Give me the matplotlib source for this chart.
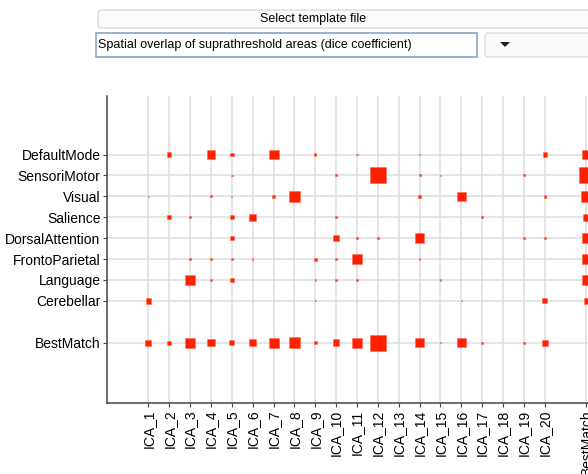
import numpy as np
import matplotlib.pyplot as plt
from matplotlib.patches import FancyBboxPatch, Rectangle, Polygon

plt.rcParams['font.family'] = ['Liberation Sans', 'DejaVu Sans']

# networks (rows) and ICA components (columns)
networks = ['DefaultMode', 'SensoriMotor', 'Visual', 'Salience',
            'DorsalAttention', 'FrontoParietal', 'Language', 'Cerebellar']
components = ['ICA_%d' % i for i in range(1, 21)]

# dice coefficient, one list per network (0 = no overlap)
dice_defaultmode = [0, .14, 0, .27, .13, 0, .33, 0, .07, 0, .05, 0, 0, .05, 0, 0, 0, 0, 0, .15]
dice_sensorimotor = [0, 0, 0, 0, .05, 0, 0, 0, 0, .07, 0, .53, 0, .07, .05, 0, 0, 0, .07, 0]
dice_visual = [.04, 0, 0, .07, .04, 0, .08, .38, 0, 0, 0, 0, 0, .10, 0, .30, 0, 0, 0, .08]
dice_salience = [0, .14, .07, 0, .15, .22, 0, 0, 0, .05, 0, 0, 0, 0, 0, 0, .07, 0, 0, 0]
dice_dorsalattention = [0, 0, 0, 0, .13, 0, 0, 0, 0, .21, .05, .05, 0, .32, 0, 0, 0, 0, .07, .07]
dice_frontoparietal = [0, 0, .05, .05, .05, .05, 0, 0, .10, .05, .33, 0, 0, .05, 0, 0, 0, 0, 0, 0]
dice_language = [0, 0, .32, .05, .13, 0, 0, 0, .05, .05, .05, 0, 0, 0, .05, 0, 0, 0, 0, 0]
dice_cerebellar = [.18, 0, 0, 0, 0, 0, 0, 0, .04, 0, 0, 0, 0, 0, 0, .04, 0, 0, 0, .17]

# best match per component (bottom row) and per network (right column)
best_per_component = [.20, .13, .33, .25, .17, .23, .33, .38, .08, .22,
                      .33, .53, 0, .32, .05, .30, .07, 0, .07, .20]
best_per_network = [.33, .53, .38, .22, .32, .33, .32, .18]

dice = np.array([dice_defaultmode, dice_sensorimotor, dice_visual, dice_salience,
                 dice_dorsalattention, dice_frontoparietal, dice_language,
                 dice_cerebellar])

W, H = 588, 474
fig = plt.figure(figsize=(W / 100, H / 100), dpi=100)

# ---- GUI widgets above the plot (pixel coordinates) ----
gui = fig.add_axes([0, 0, 1, 1])
gui.set_xlim(0, W)
gui.set_ylim(H, 0)
gui.axis('off')
gui.add_patch(FancyBboxPatch((98, 10), 520, 18, boxstyle='round,pad=0,rounding_size=3',
                             facecolor='#fbfbfb', edgecolor='#d2d2d2', lw=0.8))
gui.text(313, 19, 'Select template file', ha='center', va='center', fontsize=9)
gui.add_patch(Rectangle((96, 33), 381, 24, facecolor='white', edgecolor='#93aad0', lw=1.3))
gui.text(98, 45, 'Spatial overlap of suprathreshold areas (dice coefficient)',
         ha='left', va='center', fontsize=9)
gui.add_patch(FancyBboxPatch((485, 33), 130, 24, boxstyle='round,pad=0,rounding_size=3',
                             facecolor='#fafafa', edgecolor='#d6d6d6', lw=0.8))
gui.add_patch(Polygon([(500, 42), (510, 42), (505, 47)], closed=True,
                      facecolor='#222222', edgecolor='none'))

# ---- main axes ----
unit_x = 20.86
left_px, top_px, bottom_px = 106.7, 96, 403.3
ax = fig.add_axes([left_px / W, (H - bottom_px) / H, 24 * unit_x / W,
                   (bottom_px - top_px) / H])
ax.set_xlim(-1, 23)
ax.set_ylim(12.9, -1.8)

scale = 30 * 0.72  # dice -> marker width in points
col_x = np.arange(1, 21)
row_y = np.arange(1, 9)
for r, y in enumerate(row_y):
    v = dice[r]
    m = v > 0
    ax.scatter(col_x[m], np.full(m.sum(), y), s=(v[m] * scale) ** 2, marker='s',
               color='#ff2000', edgecolors='#ff6a55', linewidths=0.4, zorder=3)

bm = np.array(best_per_component)
m = bm > 0
ax.scatter(col_x[m], np.full(m.sum(), 10), s=(bm[m] * scale) ** 2, marker='s',
           color='#ff2000', edgecolors='#ff6a55', linewidths=0.4, zorder=3)
bn = np.array(best_per_network)
ax.scatter(np.full(len(bn), 22), row_y, s=(bn * scale) ** 2, marker='s',
           color='#ff2000', edgecolors='#ff6a55', linewidths=0.4, zorder=3,
           clip_on=False)

ax.set_xticks(list(col_x) + [22])
ax.set_xticklabels(components + ['BestMatch'], rotation=90, fontsize=10)
ax.set_yticks(list(row_y) + [10])
ax.set_yticklabels(networks + ['BestMatch'], fontsize=10)

ax.grid(True, color='#dedede', lw=1.1)
ax.set_axisbelow(True)
for s in ['top', 'right']:
    ax.spines[s].set_visible(False)
for s in ['left', 'bottom']:
    ax.spines[s].set_color('#444444')
    ax.spines[s].set_linewidth(1.1)
ax.tick_params(direction='out', length=3, width=0.8, color='#444444', pad=1.5)

fig.savefig('out.png', dpi=100)
